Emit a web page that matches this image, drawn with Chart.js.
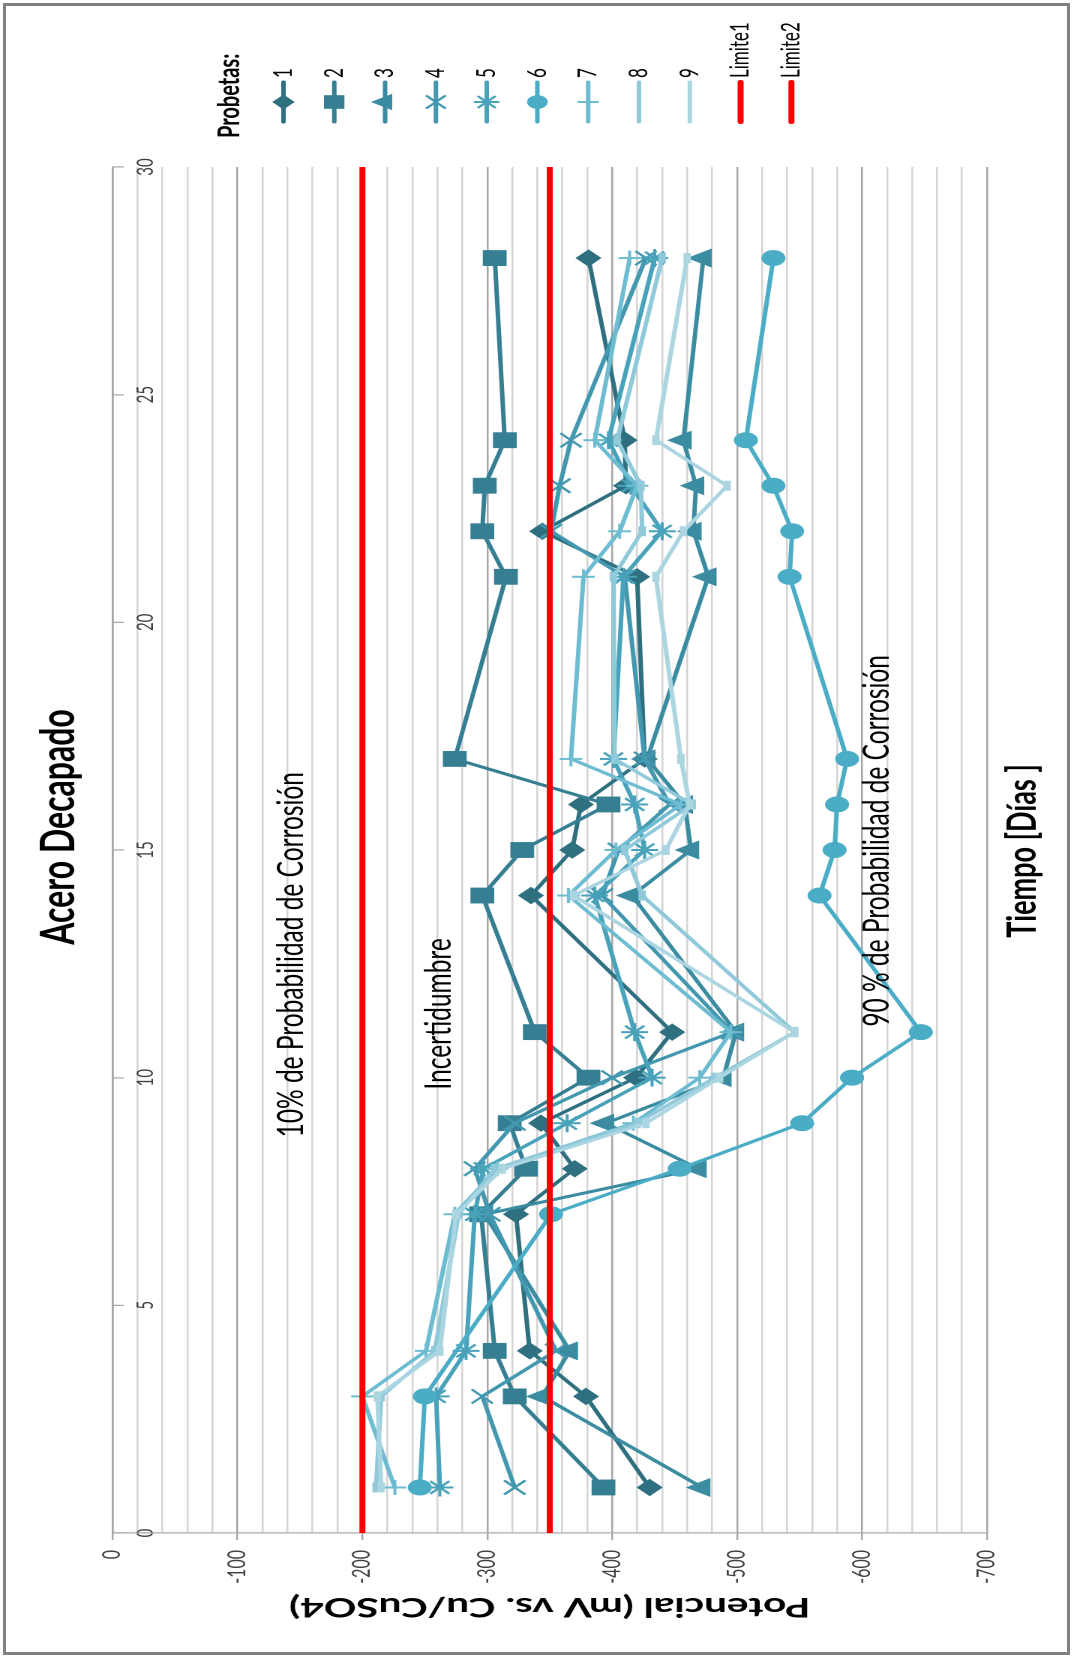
<!DOCTYPE html>
<html>
<head>
<meta charset="utf-8">
<title>Acero Decapado</title>
<script src="https://cdn.jsdelivr.net/npm/chart.js@4.4.0/dist/chart.umd.min.js"></script>
<style>
  html, body { margin: 0; padding: 0; background: #fff; }
  body { width: 1074px; height: 1657px; position: relative; overflow: hidden; }
  #marco { position: absolute; left: 3px; top: 3px; width: 1067px; height: 1652px;
           border: 3px solid #808080; box-sizing: border-box; }
  /* the chart is drawn lying down and turned a quarter turn, stretched across */
  #giro { position: absolute; left: 0; top: 0; width: 1657px; height: 716px;
          transform-origin: 0 0; transform: matrix(0, -1, 1.5, 0, 0, 1657); }
</style>
</head>
<body>
<div id="marco"></div>
<div id="giro"><canvas id="grafico" width="1657" height="716"></canvas></div>
<script>
// dias de medicion
const dias = [1, 3, 4, 7, 8, 9, 10, 11, 14, 15, 16, 17, 21, 22, 23, 24, 28];

// potencial (mV vs Cu/CuSO4) por probeta
const probeta1 = [-430, -379, -334, -323, -370, -343, -419, -448, -335, -368, -375, -426, -420, -344, -411, -410, -381];
const probeta2 = [-393, -322, -306, -295, -331, -318, -381, -338, -296, -328, -397, -274, -315, -296, -298, -314, -306];
const probeta3 = [-472, -344, -366, -298, -469, -395, -489, -499, -416, -463, -458, -428, -477, -465, -467, -457, -473];
const probeta4 = [-322, -296, -355, -302, -290, -322, -400, -496, -392, -405, -446, -426, -410, -351, -358, -367, -427];
const probeta5 = [-262, -259, -283, -290, -297, -364, -432, -418, -386, -426, -418, -401, -409, -440, -415, -397, -434];
const probeta6 = [-246, -250, null, -351, -454, -552, -592, -647, -566, -578, -580, -588, -542, -544, -529, -507, -529];
const probeta7 = [-226, -200, -251, -274, -308, -417, -470, -495, -365, -403, -455, -367, -377, -406, -420, -386, -414];
const probeta8 = [-211, -215, -258, -277, -306, -420, -482, -546, -424, -410, -464, -402, -401, -424, -423, -404, -440];
const probeta9 = [-215, -212, -262, -275, -312, -427, -486, -546, -369, -443, -462, -455, -435, -457, -492, -435, -460];

// limites de probabilidad de corrosion
const diasLimite = [0, 30];
const limite1 = [-200, -200];
const limite2 = [-350, -350];

const nombres = ['1', '2', '3', '4', '5', '6', '7', '8', '9'];
const colores = ['#2e6f80', '#367f93', '#3b8ca1', '#4398af', '#47a2ba', '#4bacc6', '#6ebcd1', '#8fc9da', '#aad5e1'];
const marcas = ['rectRot', 'rect', 'triangle', 'crossRot', 'star', 'circle', 'cross', 'line', 'line'];
const radios = [8, 10.5, 10, 10, 9, 7.5, 7.5, 5, 5];
const bordes = [1, 1, 1, 2, 2, 1, 2, 5, 5];

const series = [probeta1, probeta2, probeta3, probeta4, probeta5, probeta6, probeta7, probeta8, probeta9];

const datasets = series.map((valores, i) => ({
  label: nombres[i],
  data: dias.map((d, j) => ({ x: d, y: valores[j] })),
  borderColor: colores[i],
  backgroundColor: colores[i],
  borderWidth: 3,
  borderJoinStyle: 'round',
  borderCapStyle: 'round',
  pointStyle: marcas[i],
  pointRadius: radios[i],
  pointBorderWidth: bordes[i],
  pointBackgroundColor: colores[i],
  pointBorderColor: colores[i],
  spanGaps: true,
  tension: 0,
  order: 20 - i,
}));

[limite1, limite2].forEach((lim, k) => {
  datasets.push({
    label: 'Limite' + (k + 1),
    data: diasLimite.map((d, j) => ({ x: d, y: lim[j] })),
    borderColor: '#ff0000',
    backgroundColor: '#ff0000',
    borderWidth: 4,
    pointRadius: 0,
    order: 2 - k,
  });
});

// titulo, textos y leyenda dibujados sobre el grafico
const textos = {
  id: 'textos',
  afterDraw(chart) {
    const { ctx, scales: { x, y } } = chart;
    ctx.save();
    ctx.fillStyle = '#000';
    ctx.textAlign = 'center';
    ctx.textBaseline = 'middle';

    ctx.font = 'bold 32px Lato';
    ctx.fillText('Acero Decapado', 830, 39);
    ctx.font = 'bold 27px Lato';
    ctx.fillText('Tiempo [Días ]', 806, 682);

    ctx.font = '24.5px Lato';
    ctx.fillText('10% de Probabilidad de Corrosión', x.getPixelForValue(12.7), y.getPixelForValue(-143));
    ctx.fillText('Incertidumbre', x.getPixelForValue(11.4), y.getPixelForValue(-261));
    ctx.fillText('90 % de Probabilidad de Corrosión', x.getPixelForValue(15.2), y.getPixelForValue(-612));

    // leyenda
    ctx.textAlign = 'left';
    ctx.font = 'bold 20px Lato';
    ctx.fillText('Probetas:', 1519, 153);
    ctx.lineCap = 'round';
    chart.data.datasets.forEach((ds, i) => {
      const cy = 189 + 33.86 * i;
      ctx.strokeStyle = ds.borderColor;
      ctx.lineWidth = ds.borderWidth;
      ctx.beginPath();
      ctx.moveTo(1535, cy);
      ctx.lineTo(1575, cy);
      ctx.stroke();
      if (ds.pointRadius > 0 && ds.pointStyle !== 'line') {
        ctx.fillStyle = ds.pointBackgroundColor;
        ctx.strokeStyle = ds.pointBorderColor;
        ctx.lineWidth = ds.pointBorderWidth;
        Chart.helpers.drawPoint(ctx, {
          pointStyle: ds.pointStyle, rotation: 0,
          radius: ds.pointRadius * 0.85, borderWidth: ds.pointBorderWidth
        }, 1555, cy);
      }
      ctx.fillStyle = '#000';
      ctx.font = '17px Lato';
      ctx.fillText(ds.label, 1579, cy);
    });
    ctx.restore();
  }
};

Chart.defaults.font.family = 'Lato';

new Chart(document.getElementById('grafico'), {
  type: 'line',
  data: { datasets },
  plugins: [textos],
  options: {
    responsive: false,
    devicePixelRatio: 2,
    animation: false,
    layout: { padding: { left: 0, right: 167, top: 75, bottom: 58 } },
    plugins: {
      legend: { display: false },
      title: { display: false },
      tooltip: { enabled: false },
    },
    scales: {
      x: {
        type: 'linear',
        position: { y: 0 },
        min: 0,
        max: 30,
        ticks: { stepSize: 5, color: '#404040', font: { size: 15 }, padding: 6 },
        grid: { drawOnChartArea: false, drawTicks: true, tickLength: 7, color: '#a6a6a6', lineWidth: 1.2 },
        border: { display: true, color: '#a6a6a6', width: 1.2 },
      },
      y: {
        min: -700,
        max: 0,
        afterFit: (s) => { s.width = 124; },
        ticks: {
          stepSize: 20,
          autoSkip: false,
          color: '#404040',
          font: { size: 16 },
          padding: 10,
          callback: (v) => (v % 100 === 0 ? v : ''),
        },
        grid: {
          color: (c) => (c.tick && c.tick.value % 100 === 0 ? '#a6a6a6' : '#d4d4d4'),
          tickColor: (c) => (c.tick && c.tick.value % 100 === 0 ? '#a6a6a6' : 'rgba(0,0,0,0)'),
          tickLength: 7,
          lineWidth: 1.2,
        },
        border: { display: true, color: '#a6a6a6', width: 1.2 },
        title: {
          display: true,
          text: 'Potencial (mV vs. Cu/CuSO4)',
          color: '#000',
          font: { size: 27, weight: 'bold' },
          padding: { top: 34, bottom: 0 },
        },
      },
    },
  },
});
</script>
</body>
</html>
